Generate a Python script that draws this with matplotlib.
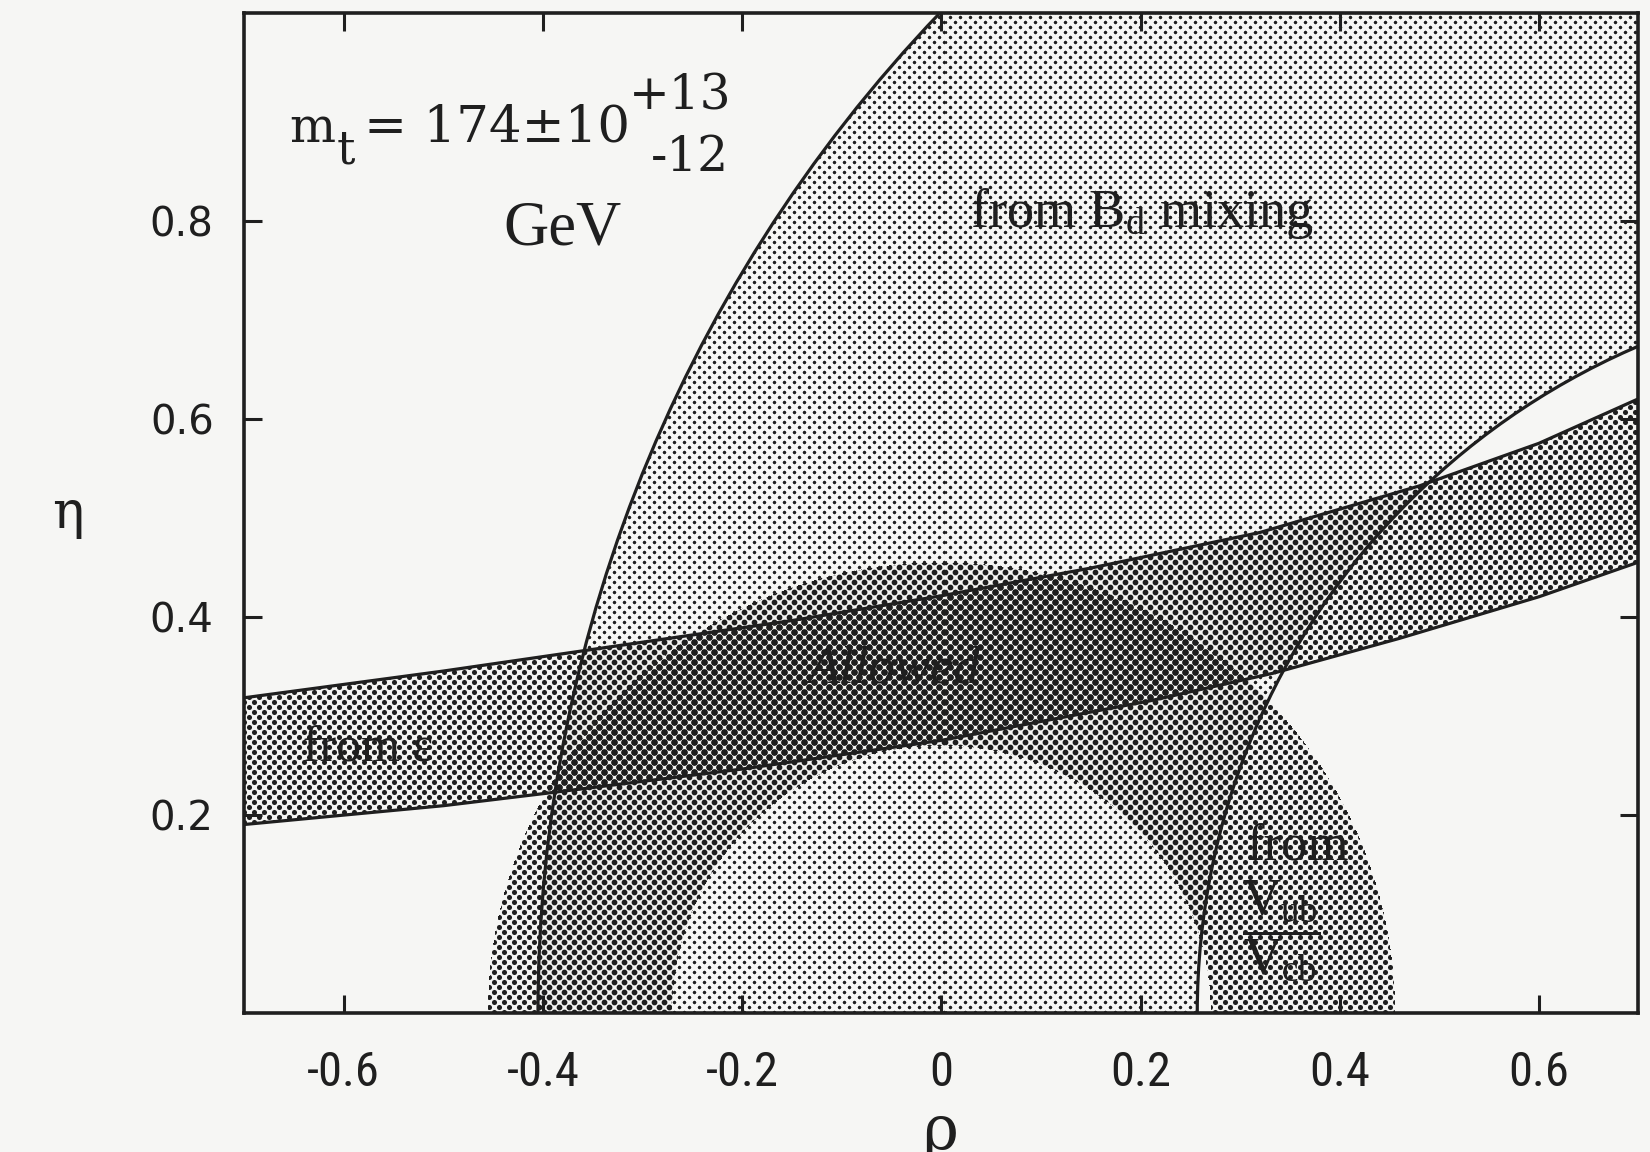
import numpy as np
import matplotlib
matplotlib.use("Agg")
import matplotlib.pyplot as plt
from matplotlib.patches import Circle
from matplotlib.path import Path

# ---- data -------------------------------------------------------------
rho_lim = (-0.7, 0.7)
eta_lim = (0.0, 1.01)

x_ticks = [-0.6, -0.4, -0.2, 0.0, 0.2, 0.4, 0.6]
x_tick_labels = ['-0.6', '-0.4', '-0.2', '0', '0.2', '0.4', '0.6']
y_ticks = [0.2, 0.4, 0.6, 0.8]
y_tick_labels = ['0.2', '0.4', '0.6', '0.8']

# B_d mixing: region between an inner and an outer circle about rho ~ 1
bd_inner_center, bd_inner_radius = (0.99, 0.0), 0.733
bd_outer_center, bd_outer_radius = (1.06, 0.0), 1.465

# |V_ub / V_cb|: annulus centred on the origin
vub_center = (0.0, 0.0)
vub_radii = (0.27, 0.455)

# epsilon_K band: upper and lower edges
eps_up_rho = [-0.70, -0.50, -0.356, -0.15, 0.0, 0.15, 0.32, 0.48, 0.60, 0.70]
eps_up_eta = [0.318, 0.345, 0.366, 0.396, 0.421, 0.449, 0.485, 0.532, 0.575, 0.620]
eps_lo_rho = [-0.70, -0.50, -0.393, -0.20, 0.0, 0.21, 0.334, 0.46, 0.60, 0.70]
eps_lo_eta = [0.190, 0.209, 0.222, 0.246, 0.275, 0.315, 0.343, 0.378, 0.420, 0.455]

# screen tone of each constraint
tone_bd, tone_eps, tone_vub = 0.19, 0.40, 0.40

# ---- style ------------------------------------------------------------
paper = np.array([0.965, 0.965, 0.958])
ink_rgb = np.array([0.12, 0.12, 0.12])
ink = '#1f1f1f'
serif = ['Liberation Serif', 'DejaVu Serif']
wide_serif = ['DejaVu Serif']
narrow_sans = ['Roboto Condensed', 'Liberation Sans Narrow', 'Liberation Sans']
plt.rcParams['mathtext.fontset'] = 'custom'
plt.rcParams['mathtext.rm'] = 'Liberation Serif'
plt.rcParams['mathtext.it'] = 'Liberation Serif:italic'

W_PX, H_PX = 1650, 1152
fig = plt.figure(figsize=(W_PX / 100, H_PX / 100), dpi=100, facecolor=paper)
ax_box = [0.148, 0.121, 0.845, 0.868]
ax = fig.add_axes(ax_box)
ax.set_facecolor(paper)
ax.set_xlim(*rho_lim)
ax.set_ylim(*eta_lim)

# ---- half-tone raster of the allowed regions -------------------------
nx = int(round(ax_box[2] * W_PX))
ny = int(round(ax_box[3] * H_PX))
rho = rho_lim[0] + (np.arange(nx) + 0.5) / nx * (rho_lim[1] - rho_lim[0])
eta = eta_lim[0] + (np.arange(ny) + 0.5) / ny * (eta_lim[1] - eta_lim[0])
RR, EE = np.meshgrid(rho, eta)

in_bd = ((np.hypot(RR - bd_inner_center[0], EE - bd_inner_center[1]) >= bd_inner_radius) &
         (np.hypot(RR - bd_outer_center[0], EE - bd_outer_center[1]) <= bd_outer_radius))
d_v = np.hypot(RR - vub_center[0], EE - vub_center[1])
in_vub = (d_v >= vub_radii[0]) & (d_v <= vub_radii[1])
band = Path(np.column_stack([np.r_[eps_up_rho, eps_lo_rho[::-1]],
                             np.r_[eps_up_eta, eps_lo_eta[::-1]]]))
in_eps = band.contains_points(np.column_stack([RR.ravel(), EE.ravel()])).reshape(RR.shape)

tone = 1 - (1 - tone_bd * in_bd) * (1 - tone_eps * in_eps) * (1 - tone_vub * in_vub)

pitch = 10.0
jj, ii = np.meshgrid(np.arange(nx), np.arange(ny))
u, v = jj / pitch, ii / pitch
da = np.hypot(u - np.round(u), v - np.round(v))
db = np.hypot(u - 0.5 - np.round(u - 0.5), v - 0.5 - np.round(v - 0.5))
dist = np.minimum(da, db) * pitch
radius = pitch * np.sqrt(tone / (2 * np.pi))
cover = np.clip(radius - dist + 0.5, 0, 1) * (tone > 0)
img = paper[None, None, :] * (1 - cover[..., None]) + ink_rgb[None, None, :] * cover[..., None]
ax.imshow(img, extent=[*rho_lim, *eta_lim], origin='lower', aspect='auto',
          interpolation='nearest', zorder=0)

# ---- boundary curves -------------------------------------------------
ax.add_patch(Circle(bd_inner_center, bd_inner_radius, fill=False, ec=ink, lw=2.3, zorder=3))
ax.add_patch(Circle(bd_outer_center, bd_outer_radius, fill=False, ec=ink, lw=2.3, zorder=3))
ax.plot(eps_up_rho, eps_up_eta, color=ink, lw=2.3, zorder=3, solid_joinstyle='round')
ax.plot(eps_lo_rho, eps_lo_eta, color=ink, lw=2.3, zorder=3, solid_joinstyle='round')

# ---- axes ------------------------------------------------------------
for s in ax.spines.values():
    s.set_linewidth(2.6)
    s.set_color(ink)
    s.set_zorder(5)
ax.set_xticks(x_ticks)
ax.set_xticklabels(x_tick_labels, family=narrow_sans, stretch='condensed',
                   fontsize=35, color=ink)
ax.set_yticks(y_ticks)
ax.set_yticklabels(y_tick_labels, family='DejaVu Sans', fontsize=29, color=ink)
ax.tick_params(axis='both', direction='in', length=13, width=2.2, color=ink,
               top=True, right=True)
ax.tick_params(axis='x', pad=27)
ax.tick_params(axis='y', pad=22)

fig.text(0.041, 0.554, '\u03b7', family='DejaVu Serif', fontsize=38,
         ha='center', va='center', color=ink)
fig.text(0.5697, 0.003, '\u03c1', family='DejaVu Serif', fontsize=44,
         ha='center', va='baseline', color=ink)

# ---- annotations -----------------------------------------------------
t = ax.transAxes
ax.text(0.0325, 0.871, 'm', transform=t, family=wide_serif, fontsize=35, color=ink)
ax.text(0.0665, 0.849, 't', transform=t, family=wide_serif, fontsize=33, color=ink)
ax.text(0.0860, 0.871, '= 174\u00b110', transform=t, family=wide_serif, fontsize=37, color=ink)
ax.text(0.2760, 0.903, '+13', transform=t, family=wide_serif, fontsize=35, color=ink)
ax.text(0.3480, 0.842, '-12', transform=t, family=wide_serif, fontsize=35, color=ink, ha='right')
ax.text(0.1857, 0.768, 'GeV', transform=t, family=serif, fontsize=45, color=ink)

ax.text(0.5208, 0.786, r'from B$_{\mathrm{d}}$ mixing', transform=t, family=serif,
        fontsize=39, color=ink)
ax.text(0.089, 0.263, 'from \u03b5', transform=t, family=serif, fontsize=36,
        color=ink, ha='center', va='center', zorder=6)
ax.text(0.4664, 0.343, 'Allowed', transform=t, family=serif, style='italic',
        fontsize=38, color=ink, ha='center', va='center', zorder=6)
ax.text(0.7555, 0.166, 'from', transform=t, family=serif, fontsize=38,
        color=ink, ha='center', va='center', zorder=6)
ax.text(0.744, 0.082, r'$\dfrac{\mathrm{V_{ub}}}{\mathrm{V_{cb}}}$', transform=t,
        fontsize=38, color=ink, ha='center', va='center', zorder=6)

fig.savefig('out.png', dpi=100, facecolor=paper)
